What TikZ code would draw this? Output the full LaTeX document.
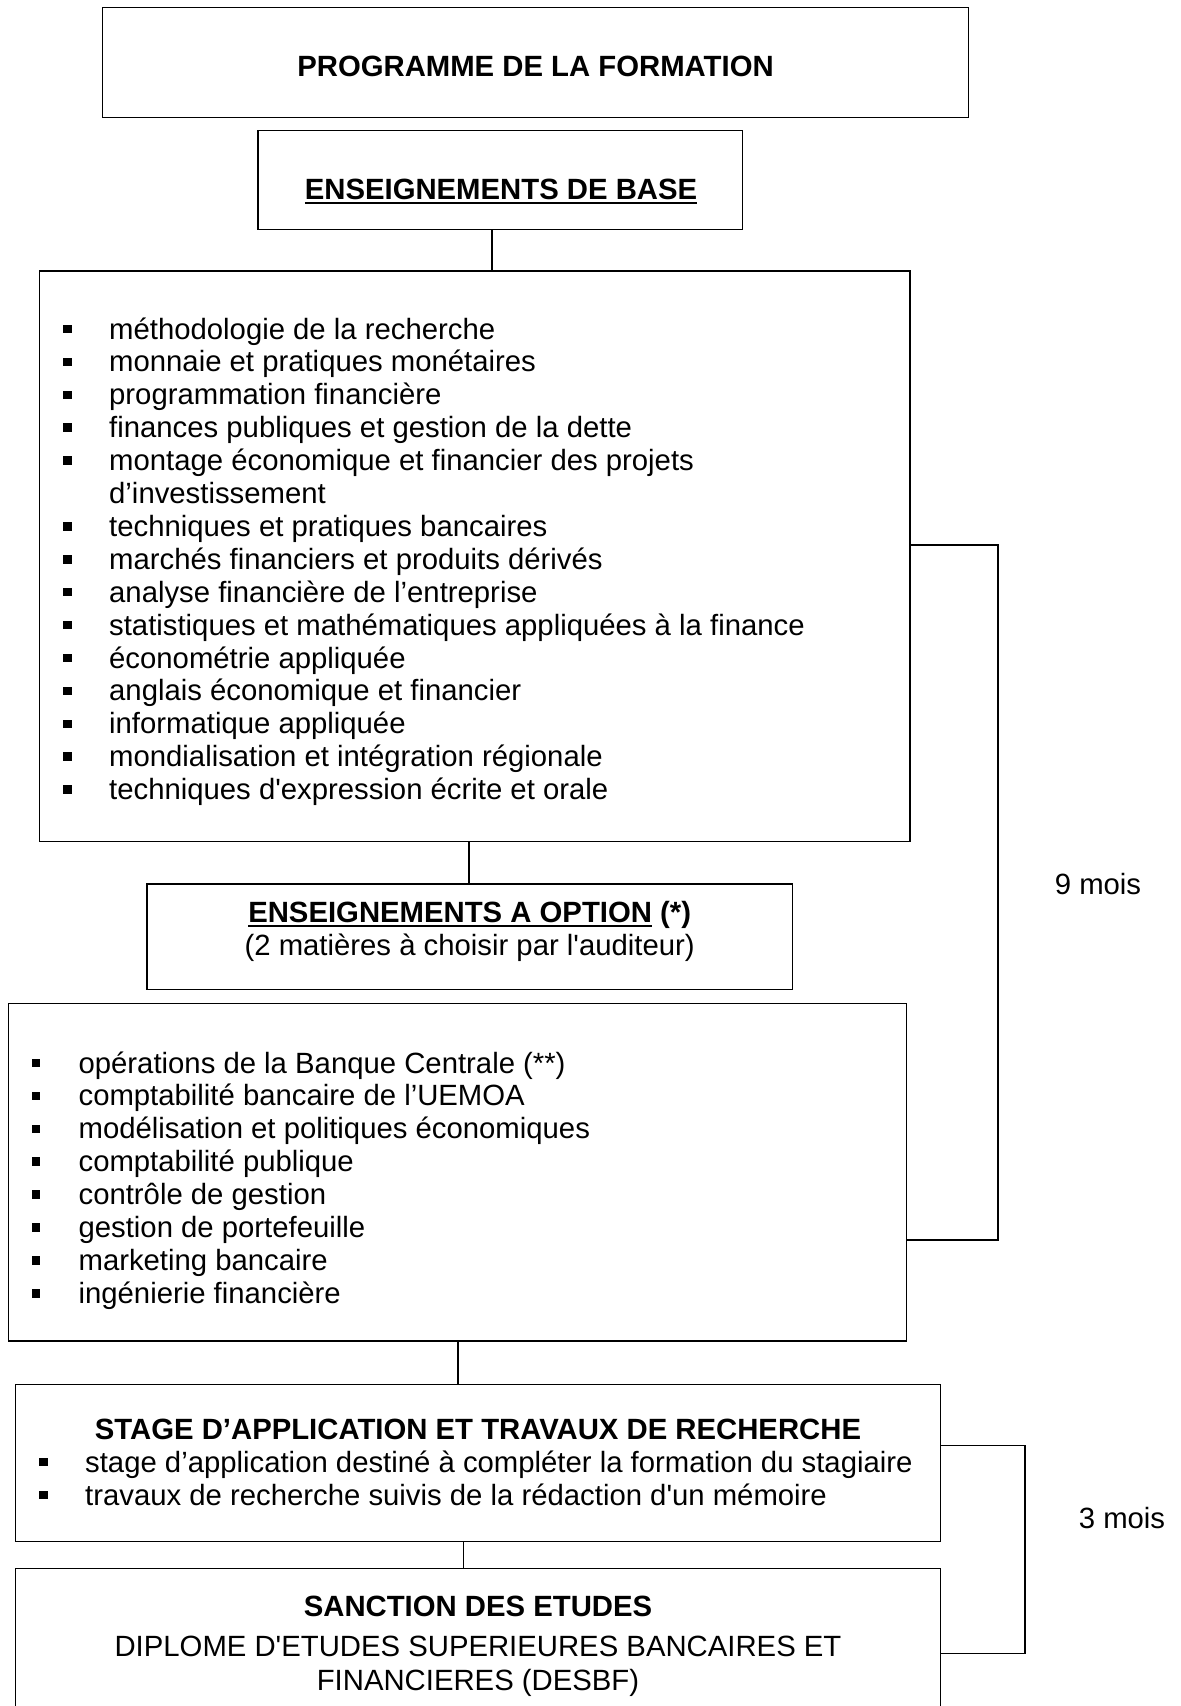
\documentclass[tikz,border=0pt]{standalone}
\usepackage{fontspec}
\setmainfont{Liberation Sans}[Ligatures=TeXOff]
\newcommand\myul[1]{\setbox0\hbox{#1}\rlap{\rule[-4.5pt]{\wd0}{1.8pt}}\box0}
\begin{document}
\begin{tikzpicture}[x=1pt,y=-1pt,
  box/.style={draw, line width=1.3pt, rectangle, inner sep=0pt},
  txt/.style={inner sep=0pt, font=\fontsize{29.3}{33}\selectfont},
  item/.style={txt, anchor=base west},
  ctr/.style={txt, anchor=base},
  link/.style={line width=1.1pt},
  blt/.style={fill=black, inner sep=0pt, minimum width=8.5pt, minimum height=8.5pt, rectangle}
]
\useasboundingbox[fill=white] (0,0) rectangle (1181,1706);

% boxes
\node[box, minimum width=866.5pt, minimum height=110pt] (b1) at (535.55,62.6) {};
\node[box, minimum width=484.4pt, minimum height=99.1pt] (b2) at (500.2,180.15) {};
\node[box, minimum width=870.8pt, minimum height=570.4pt] (b3) at (474.6,556.2) {};
\node[box, minimum width=645.4pt, minimum height=105.4pt] (b4) at (469.7,936.7) {};
\node[box, minimum width=898pt, minimum height=337.4pt] (b5) at (457.7,1172.3) {};
\node[box, minimum width=925.3pt, minimum height=156.8pt] (b6) at (477.85,1462.9) {};
\node[box, minimum width=925.3pt, minimum height=151.5pt] (b7) at (477.85,1644.25) {};

% titles
\node[ctr, font=\fontsize{29.3}{33}\selectfont\bfseries] (t1) at (535.5,76) {PROGRAMME DE LA FORMATION};
\node[ctr, font=\fontsize{29.3}{33}\selectfont\bfseries] (t2) at (501,199.5) {\myul{ENSEIGNEMENTS DE BASE}};
\node[ctr] (t4a) at (469.7,922) {\myul{\textbf{ENSEIGNEMENTS A OPTION}}\hspace{0.28em}\textbf{(*)}};
\node[ctr] (t4b) at (469.7,955) {(2 matières à choisir par l'auditeur)};
\node[ctr, font=\fontsize{29.3}{33}\selectfont\bfseries] (t6) at (478,1439) {STAGE D’APPLICATION ET TRAVAUX DE RECHERCHE};
\node[ctr, font=\fontsize{29.3}{33}\selectfont\bfseries] (t7) at (478,1616) {SANCTION DES ETUDES};
\node[ctr] (t7a) at (478,1656) {DIPLOME D'ETUDES SUPERIEURES BANCAIRES ET};
\node[ctr] (t7b) at (478,1690) {FINANCIERES (DESBF)};

% base items
\foreach \t [count=\i from 0] in {
  méthodologie de la recherche,
  monnaie et pratiques monétaires,
  programmation financière,
  finances publiques et gestion de la dette,
  montage économique et financier des projets,
  d’investissement,
  techniques et pratiques bancaires,
  marchés financiers et produits dérivés,
  analyse financière de l’entreprise,
  statistiques et mathématiques appliquées à la finance,
  économétrie appliquée,
  anglais économique et financier,
  informatique appliquée,
  mondialisation et intégration régionale,
  techniques d'expression écrite et orale}{
  \pgfmathsetmacro\yy{339+32.9*\i}
  \node[item] (a\i) at (109,\yy) {\t};
  \ifnum\i=5\else
    \node[blt] (ab\i) at (67.5,\yy-10) {};
  \fi
}

% option items
\foreach \t [count=\i from 0] in {
  opérations de la Banque Centrale (**),
  comptabilité bancaire de l’UEMOA,
  modélisation et politiques économiques,
  comptabilité publique,
  contrôle de gestion,
  gestion de portefeuille,
  marketing bancaire,
  ingénierie financière}{
  \pgfmathsetmacro\yy{1073+32.9*\i}
  \node[item] (o\i) at (78.4,\yy) {\t};
  \node[blt] (ob\i) at (36,\yy-10) {};
}

% stage items
\node[item] (s0) at (85,1472) {stage d’application destiné à compléter la formation du stagiaire};
\node[blt] (sb0) at (43.5,1462) {};
\node[item] (s1) at (85,1505) {travaux de recherche suivis de la rédaction d'un mémoire};
\node[blt] (sb1) at (43.5,1495) {};

% connectors
\coordinate (c1) at (492,0);
\coordinate (c2) at (469,0);
\coordinate (c3) at (458,0);
\coordinate (c4) at (463.7,0);
\draw[link] (c1 |- b2.south) -- (c1 |- b3.north);
\draw[link] (c2 |- b3.south) -- (c2 |- b4.north);
\draw[link] (c3 |- b5.south) -- (c3 |- b6.north);
\draw[link] (c4 |- b6.south) -- (c4 |- b7.north);

% brackets
\coordinate (r9t) at (998,545);
\coordinate (r9b) at (998,1240);
\draw[link] (b3.east |- r9t) -- (r9t) -- (r9b) -- (b5.east |- r9b);
\node[ctr] (m9) at (1098,894) {9 mois};

\coordinate (r3t) at (1025,1445.5);
\coordinate (r3b) at (1025,1653.5);
\draw[link] (b6.east |- r3t) -- (r3t) -- (r3b) -- (b7.east |- r3b);
\node[ctr] (m3) at (1122,1528) {3 mois};
\end{tikzpicture}
\end{document}
